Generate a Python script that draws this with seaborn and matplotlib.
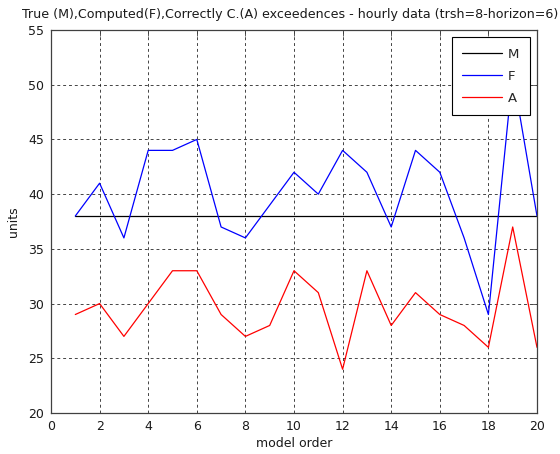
import matplotlib
matplotlib.use("Agg")
import matplotlib.pyplot as plt
import numpy as np
import pandas as pd
import seaborn as sns

# Model orders and exceedence counts for each series
model_order = list(range(1, 21))
true_m = [38] * 20
computed_f = [38, 41, 36, 44, 44, 45, 37, 36, 39, 42,
              40, 44, 42, 37, 44, 42, 36, 29, 51, 38]
correct_a = [29, 30, 27, 30, 33, 33, 29, 27, 28, 33,
             31, 24, 33, 28, 31, 29, 28, 26, 37, 26]
series_names = ["M", "F", "A"]
series_colors = ["#000000", "#0000ff", "#ff0000"]
x_ticks = list(range(0, 21, 2))
y_ticks = list(range(20, 56, 5))

df = pd.DataFrame({
    "order": model_order * 3,
    "value": true_m + computed_f + correct_a,
    "series": [s for s in series_names for _ in model_order],
})

sns.set_theme(style="white")
plt.rcParams["font.family"] = ["DejaVu Sans"]

fig = plt.figure(figsize=(5.6, 4.54), dpi=100)
ax = fig.add_axes([51 / 560, 1 - 413 / 454, 486 / 560, 383 / 454])

sns.lineplot(data=df, x="order", y="value", hue="series",
             hue_order=series_names, palette=series_colors,
             sort=False, linewidth=0.9, ax=ax, legend=True)

ax.set_xlim(0, 20)
ax.set_ylim(20, 55)
ax.set_xticks(x_ticks)
ax.set_yticks(y_ticks)
ax.grid(True, color="0.15", linestyle=(0, (3.5, 3.5)), linewidth=0.6)
ax.set_axisbelow(True)

for sp in ax.spines.values():
    sp.set_color("0.25")
    sp.set_linewidth(0.9)

ax.tick_params(axis="both", which="both", direction="in", length=4,
               width=0.6, color="0.25", top=True, right=True,
               labelsize=9, pad=5, labelcolor="0.1")

ax.set_xlabel("model order", fontsize=9, labelpad=3, color="0.1")
ax.set_ylabel("units", fontsize=9, labelpad=6, color="0.1")
# Long title: start it left of the axes so the whole line stays on the figure
ax.set_title("True (M),Computed(F),Correctly C.(A) exceedences - "
             "hourly data (trsh=8-horizon=6)", fontsize=9.1, pad=8.5,
             color="0.1", loc="left", x=(22 - 51) / 486)

handles, labels = ax.get_legend_handles_labels()
leg = ax.legend(handles, labels, loc="upper right", fontsize=9.5,
                frameon=True, fancybox=False, shadow=False,
                edgecolor="black", framealpha=1,
                handlelength=3.0, handletextpad=0.45,
                labelspacing=0.68, borderpad=0.8, borderaxespad=0.55)
leg.get_frame().set_linewidth(0.8)
for line in leg.get_lines():
    line.set_linewidth(0.9)

fig.savefig("out.png", dpi=100, facecolor="white")
